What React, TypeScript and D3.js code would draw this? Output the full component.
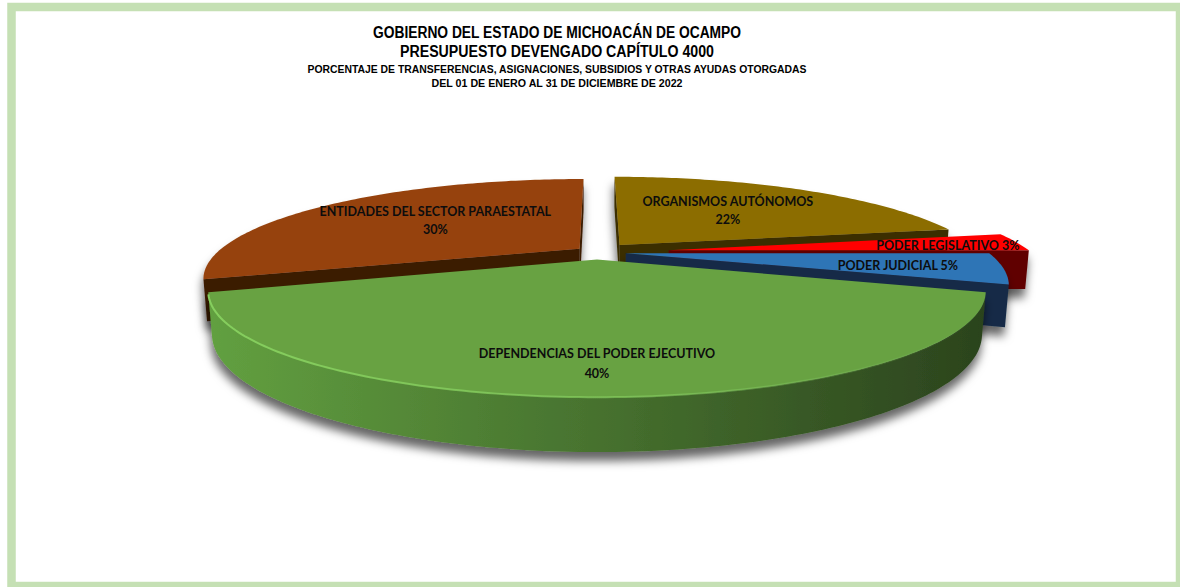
import React from "react";
import * as d3 from "d3";

// ---------- data ----------
const categories = [
  "ORGANISMOS AUTÓNOMOS",
  "PODER LEGISLATIVO",
  "PODER JUDICIAL",
  "DEPENDENCIAS DEL PODER EJECUTIVO",
  "ENTIDADES DEL SECTOR PARAESTATAL",
];
const percents = [22, 3, 5, 40, 30];
const titleLines = [
  "GOBIERNO DEL ESTADO DE MICHOACÁN DE OCAMPO",
  "PRESUPUESTO DEVENGADO CAPÍTULO 4000",
  "PORCENTAJE DE TRANSFERENCIAS, ASIGNACIONES, SUBSIDIOS Y OTRAS AYUDAS OTORGADAS",
  "DEL 01 DE ENERO AL 31 DE DICIEMBRE DE 2022",
];

// ---------- style ----------
const W = 1180;
const H = 587;
const topColors = ["#8c6d00", "#ff0000", "#2e75b6", "#67a243", "#96430f"];
const sideLight = ["#4a3a00", "#7a0000", "#1b3a5e", "#62a040", "#4a2207"];
const sideDark = ["#3a2d00", "#600000", "#142b47", "#2b431d", "#3a1a04"];
const rimHighlight = ["#a88500", "#ff4040", "#4a8fd0", "#86cf5e", "#b85a1c"];
const explodeBy = [0.1, 0.2, 0.08, 0.08, 0.06];
const labelRadius = [0.55, 0.8, 0.73, 0.82, 0.55];
const labelTwoLine = [true, false, false, true, true];
const labelGap = [18, 0, 0, 20, 18];
const titleStyle = [
  { size: 16, len: 368, base: 38 },
  { size: 16, len: 314, base: 57 },
  { size: 11, len: 499, base: 73 },
  { size: 11, len: 251, base: 87 },
];

// projection parameters
const cx = 597;
const cy = 252;
const F = 1195;
const D = 3.3;
const phi = (14.7 * Math.PI) / 180;
const thick = 0.112;
const sinP = Math.sin(phi);
const cosP = Math.cos(phi);
const cam = [0, D * sinP, D * cosP];

function proj(X: number, Y: number, Z: number): [number, number] {
  const yc = Z * sinP - Y * cosP;
  const depth = D - (Z * cosP + Y * sinP);
  return [cx + (F * X) / depth, cy + (F * yc) / depth];
}

export default function App() {
  const pie = d3
    .pie<number>()
    .sort(null)
    .startAngle(0)
    .endAngle(2 * Math.PI)(percents);
  const line = d3.line().curve(d3.curveLinearClosed);
  const openLine = d3.line();

  const slices = pie.map((a, i) => {
    const a0 = a.startAngle;
    const a1 = a.endAngle;
    const mid = (a0 + a1) / 2;
    const ox = explodeBy[i] * Math.sin(mid);
    const oz = -explodeBy[i] * Math.cos(mid);
    const rim = (t: number, y: number) => proj(ox + Math.sin(t), y, oz - Math.cos(t));
    const apex = (y: number) => proj(ox, y, oz);
    const n = Math.max(2, Math.ceil(((a1 - a0) * 180) / Math.PI));
    const ts = d3.range(n + 1).map((k) => a0 + ((a1 - a0) * k) / n);
    const vis = (nx: number, nz: number, px: number, pz: number) =>
      nx * (cam[0] - px) + nz * (cam[2] - pz) > 0;

    const cutFaces: [number, number][][] = [];
    {
      const nx = -Math.cos(a0), nz = -Math.sin(a0);
      if (vis(nx, nz, ox + 0.5 * Math.sin(a0), oz - 0.5 * Math.cos(a0)))
        cutFaces.push([apex(0), rim(a0, 0), rim(a0, -thick), apex(-thick)]);
    }
    {
      const nx = Math.cos(a1), nz = Math.sin(a1);
      if (vis(nx, nz, ox + 0.5 * Math.sin(a1), oz - 0.5 * Math.cos(a1)))
        cutFaces.push([apex(0), rim(a1, 0), rim(a1, -thick), apex(-thick)]);
    }
    const runs: number[][] = [];
    let cur: number[] | null = null;
    for (let k = 0; k < n; k++) {
      const tm = (ts[k] + ts[k + 1]) / 2;
      const v = vis(Math.sin(tm), -Math.cos(tm), ox + Math.sin(tm), oz - Math.cos(tm));
      if (v) {
        if (!cur) {
          cur = [k];
          runs.push(cur);
        }
        cur.push(k + 1);
      } else cur = null;
    }
    const outer = runs.map((r) => {
      const topPts = r.map((k) => rim(ts[k], 0));
      const botPts = r.map((k) => rim(ts[k], -thick)).reverse();
      return { poly: [...topPts, ...botPts], rimLine: topPts };
    });
    const topFace = [apex(0), ...ts.map((t) => rim(t, 0))];
    const xs = topFace.map((p) => p[0]);
    const lr = labelRadius[i];
    const lp = proj(ox + lr * Math.sin(mid), 0, oz - lr * Math.cos(mid));
    return {
      i,
      zKey: oz - 0.5 * Math.cos(mid),
      cutFaces,
      outer,
      topFace,
      x0: d3.min(xs)!,
      x1: d3.max(xs)!,
      lp,
    };
  });

  const order = [...slices].sort((p, q) => p.zKey - q.zKey);

  return (
    <svg
      width={W}
      height={H}
      style={{ position: "absolute", left: 0, top: 0, background: "#fff" }}
    >
      <defs>
        <filter id="sh" x="-20%" y="-30%" width="140%" height="180%">
          <feDropShadow dx="-1" dy="9" stdDeviation="5" floodColor="#000" floodOpacity="0.6" />
        </filter>
        {slices.map((s) => (
          <linearGradient
            key={"g" + s.i}
            id={"side" + s.i}
            gradientUnits="userSpaceOnUse"
            x1={s.x0}
            x2={s.x1}
            y1={0}
            y2={0}
          >
            <stop offset="0" stopColor={sideLight[s.i]} />
            <stop offset="1" stopColor={sideDark[s.i]} />
          </linearGradient>
        ))}
        {slices.map((s) => (
          <linearGradient
            key={"h" + s.i}
            id={"hl" + s.i}
            gradientUnits="userSpaceOnUse"
            x1={s.x0}
            x2={s.x1}
            y1={0}
            y2={0}
          >
            <stop offset="0" stopColor={rimHighlight[s.i]} stopOpacity="1" />
            <stop offset="0.6" stopColor={rimHighlight[s.i]} stopOpacity="0.6" />
            <stop offset="1" stopColor={rimHighlight[s.i]} stopOpacity="0" />
          </linearGradient>
        ))}
      </defs>
      <rect
        x={11.5}
        y={7}
        width={1168.5}
        height={579}
        fill="#fff"
        stroke="#c5e0b4"
        strokeWidth={8.5}
      />
      <g fontFamily="'Liberation Sans Narrow', 'Arial Narrow', 'Liberation Sans', Arial, sans-serif" fontWeight="bold" fill="#000" textAnchor="middle">
        {titleLines.map((t, k) => (
          <text
            key={k}
            x={557}
            y={titleStyle[k].base}
            fontSize={titleStyle[k].size}
            textLength={titleStyle[k].len}
            lengthAdjust="spacingAndGlyphs"
          >
            {t}
          </text>
        ))}
      </g>
      {order.map((s) => (
        <g key={s.i} filter="url(#sh)">
          {s.cutFaces.map((f, k) => (
            <path key={"c" + k} d={line(f)!} fill={sideDark[s.i]} />
          ))}
          {s.outer.map((o, k) => (
            <path key={"o" + k} d={line(o.poly as [number, number][])!} fill={`url(#side${s.i})`} />
          ))}
          <path d={line(s.topFace)!} fill={topColors[s.i]} />
          {s.outer.map((o, k) => (
            <path
              key={"r" + k}
              d={openLine(o.rimLine as [number, number][])!}
              fill="none"
              stroke={`url(#hl${s.i})`}
              strokeWidth={2}
            />
          ))}
        </g>
      ))}
      <g fontFamily="Lato, 'Open Sans', sans-serif" fontWeight="bold" fontSize={12.5} fill="#0d0d0d" textAnchor="middle">
        {slices.map((s) =>
          labelTwoLine[s.i] ? (
            <g key={"l" + s.i}>
              <text x={s.lp[0]} y={s.lp[1] - labelGap[s.i] / 3}>{categories[s.i]}</text>
              <text x={s.lp[0]} y={s.lp[1] + (labelGap[s.i] * 2) / 3}>{percents[s.i] + "%"}</text>
            </g>
          ) : (
            <text key={"l" + s.i} x={s.lp[0]} y={s.lp[1] + 6}>
              {categories[s.i] + " " + percents[s.i] + "%"}
            </text>
          )
        )}
      </g>
    </svg>
  );
}
